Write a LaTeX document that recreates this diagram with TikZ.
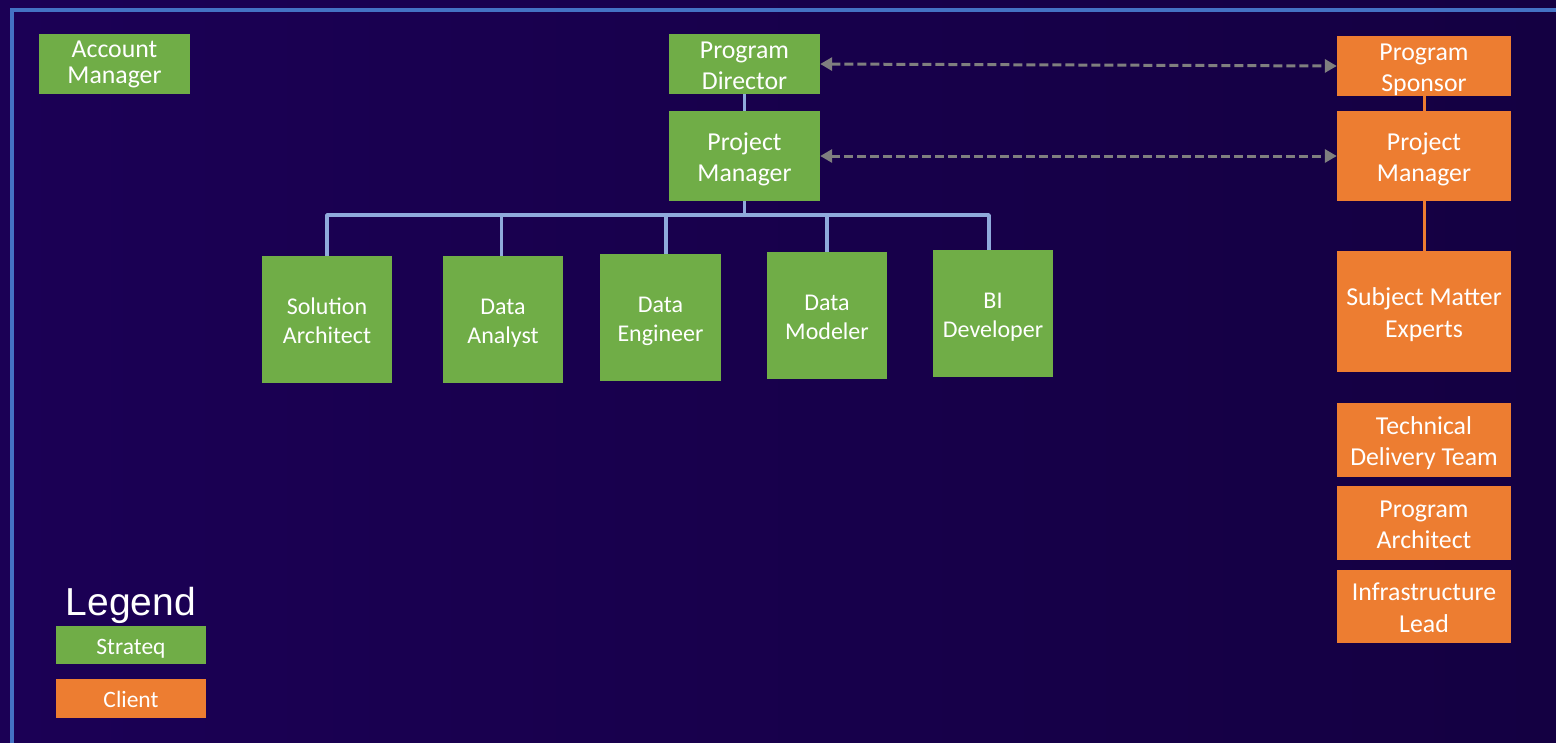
\documentclass[tikz,border=0pt]{standalone}
\usepackage{fontspec}
\setmainfont{Carlito}
\newfontfamily\legendfont{Liberation Sans}
\usetikzlibrary{arrows.meta,calc}
\definecolor{bgL}{HTML}{1B0055}
\definecolor{bgR}{HTML}{140042}
\definecolor{sgreen}{HTML}{70AD47}
\definecolor{corange}{HTML}{ED7D31}
\definecolor{busblue}{HTML}{8FAADC}
\definecolor{borderblue}{HTML}{4472C4}
\definecolor{dashgray}{HTML}{7F7F7F}
\tikzset{
  boxbase/.style={inner sep=0pt, align=center, text=white},
  gbox/.style={boxbase, fill=sgreen},
  obox/.style={boxbase, fill=corange},
  % two-line texts: the struts fix the height above the last baseline and the depth below it
  bigtxt/.style={font=\fontsize{25.8}{31.5}\selectfont,
    execute at begin node=\rule{0pt}{57.5pt}, execute at end node=\rule[-6pt]{0pt}{6pt}},
  bigtxtflat/.style={font=\fontsize{25.8}{31.5}\selectfont,
    execute at begin node=\rule{0pt}{55.5pt}, execute at end node=\rule[-4.5pt]{0pt}{4.5pt}},
  amtxt/.style={font=\fontsize{25.8}{26}\selectfont,
    execute at begin node=\rule{0pt}{46pt}, execute at end node=\rule[-6.3pt]{0pt}{6.3pt}},
  midtxt/.style={font=\fontsize{24}{29}\selectfont,
    execute at begin node=\rule{0pt}{53pt}, execute at end node=\rule[-5.4pt]{0pt}{5.4pt}},
  % one-line texts
  legtxt/.style={font=\fontsize{23.5}{28}\selectfont,
    execute at begin node=\rule{0pt}{24pt}, execute at end node=\rule[-5.3pt]{0pt}{5.3pt}},
  busline/.style={draw=busblue, line width=3.5pt, line join=round},
  oline/.style={draw=corange, line width=3pt},
  dasharrow/.style={draw=dashgray, line width=3pt, dash pattern=on 9pt off 4pt,
    {Triangle[length=12pt,width=13pt]}-{Triangle[length=12pt,width=13pt]}},
  borderline/.style={draw=borderblue, line width=4pt}
}
\begin{document}
\begin{tikzpicture}[x=1pt,y=-1pt]
\shade[left color=bgL,right color=bgR] (0,0) rectangle (1556,742);
\useasboundingbox (0,0) rectangle (1556,742);
\draw[borderline] (1570,9.5) -- (11.5,9.5) -- (11.5,760);

% Strateq side
\node[gbox, amtxt, minimum width=151pt, minimum height=60pt] (am) at (114.5,64) {Account\\Manager};
\node[gbox, bigtxtflat, minimum width=151pt, minimum height=60pt] (pd) at (744.5,64) {Program\\Director};
\node[gbox, bigtxt, minimum width=151pt, minimum height=90pt] (pm) at (744.5,156) {Project\\Manager};

\node[gbox, midtxt, minimum width=130pt, minimum height=127pt] (sa) at (327,319.5) {Solution\\Architect};
\node[gbox, midtxt, minimum width=120pt, minimum height=127pt] (da) at (503,319.5) {Data\\Analyst};
\node[gbox, midtxt, minimum width=121pt, minimum height=127pt] (de) at (660.5,317.5) {Data\\Engineer};
\node[gbox, midtxt, minimum width=120pt, minimum height=127pt] (dm) at (827,315.5) {Data\\Modeler};
\node[gbox, midtxt, minimum width=120pt, minimum height=127pt] (bi) at (993,313.5) {BI\\Developer};

% Client side
\node[obox, bigtxtflat, minimum width=174pt, minimum height=60pt] (ps) at (1424,66) {Program\\Sponsor};
\node[obox, bigtxt, minimum width=174pt, minimum height=90pt] (cpm) at (1424,156) {Project\\Manager};
\node[obox, bigtxt, minimum width=174pt, minimum height=121pt] (sme) at (1424,311.5) {Subject Matter\\Experts};
\node[obox, bigtxt, minimum width=174pt, minimum height=74pt] (tdt) at (1424,440) {Technical\\Delivery Team};
\node[obox, bigtxt, minimum width=174pt, minimum height=74pt] (pa) at (1424,523) {Program\\Architect};
\node[obox, bigtxt, minimum width=174pt, minimum height=73pt] (il) at (1424,606.5) {Infrastructure\\Lead};

% Legend
\node[text=white, anchor=base, inner sep=0pt, font=\legendfont\fontsize{39}{47}\selectfont] (leg) at (131,615) {Legend};
\node[gbox, legtxt, minimum width=150pt, minimum height=38pt] (lgs) at (131,645) {Strateq};
\node[obox, legtxt, minimum width=150pt, minimum height=39pt] (lgc) at (131,698.5) {Client};

% Connectors
\coordinate (bus) at (0,215);
\draw[busline] (pd.south) -- (pm.north);
\draw[busline] (pm.south) -- (pm.south |- bus);
\draw[busline] (sa.north) -- (sa.north |- bus) -- ($(bi.north |- bus)+(-4,0)$) -- ($(bi.north)+(-4,0)$);
\draw[busline] ($(da.north)+(-1.5,0)$) coordinate (dat) -- (dat |- bus);
\draw[busline] ($(de.north)+(5.5,0)$) coordinate (det) -- (det |- bus);
\draw[busline] (dm.north) -- (dm.north |- bus);

\draw[oline] (ps.south) -- (cpm.north);
\draw[oline] (cpm.south) -- (sme.north);

\draw[dasharrow] (pd.east) -- (ps.west);
\draw[dasharrow] (pm.east) -- (cpm.west);
\end{tikzpicture}
\end{document}
